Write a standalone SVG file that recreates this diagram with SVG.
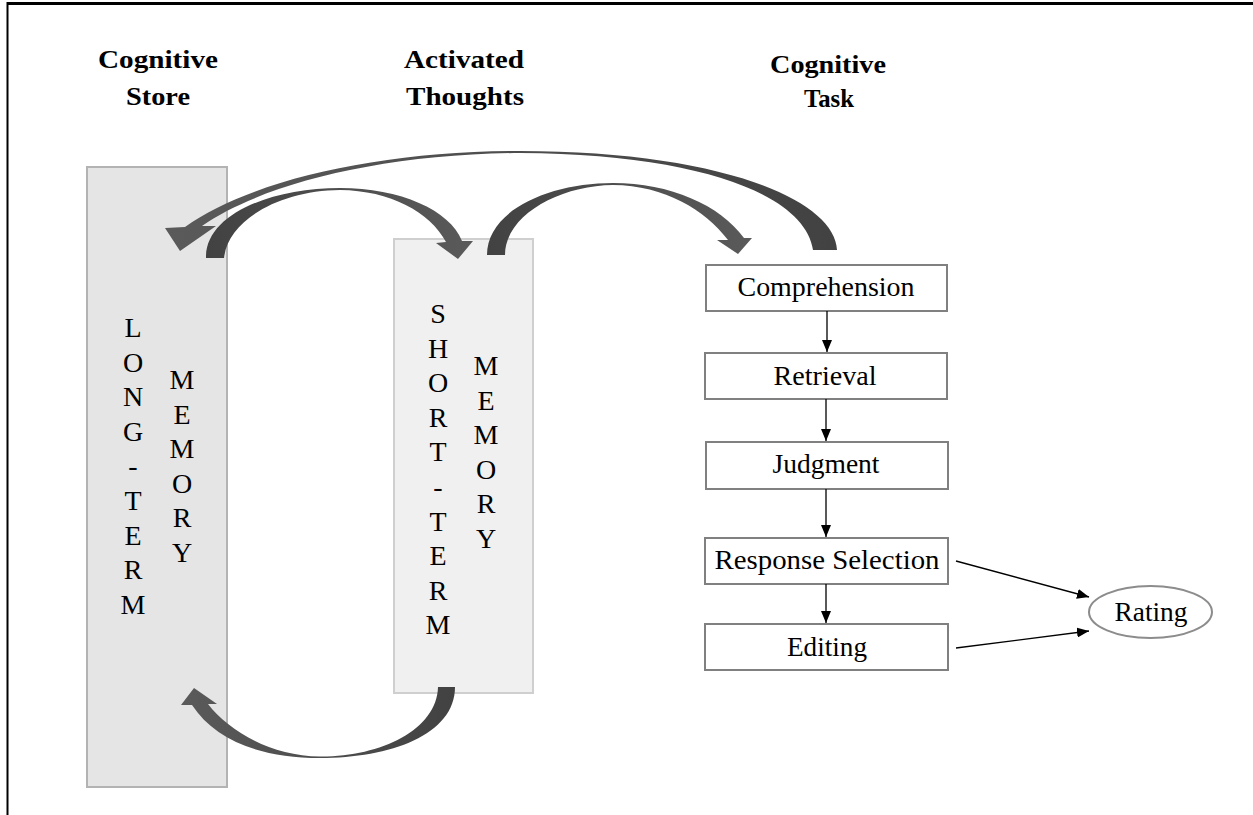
<svg xmlns="http://www.w3.org/2000/svg" width="1253" height="815" viewBox="0 0 1253 815">
<style>
  .hd { font-family: "Liberation Serif", "Times New Roman", serif; font-weight: bold; font-size: 26px; fill: #000; text-anchor: middle; }
  .tx { font-family: "Liberation Serif", "Times New Roman", serif; font-size: 27px; fill: #000; text-anchor: middle; }
  .vt { font-family: "Liberation Serif", "Times New Roman", serif; font-size: 28px; fill: #000; text-anchor: middle; }
  .box { fill: #fff; stroke: #808080; stroke-width: 2; }
  .edge { stroke: #000; stroke-width: 1.3; fill: none; marker-end: url(#ah); }
</style>
<defs>
  <marker id="ah" viewBox="0 0 12 10" refX="12" refY="5" markerWidth="12" markerHeight="10" markerUnits="userSpaceOnUse" orient="auto">
    <path d="M0,0 L12,5 L0,10 Z" fill="#000"/>
  </marker>
  <linearGradient id="gL" x1="0" y1="0" x2="1" y2="0">
    <stop offset="0" stop-color="#5a5a5a"/>
    <stop offset="1" stop-color="#424242"/>
  </linearGradient>
  <linearGradient id="gR" x1="0" y1="0" x2="1" y2="0">
    <stop offset="0" stop-color="#424242"/>
    <stop offset="1" stop-color="#5a5a5a"/>
  </linearGradient>
</defs>
<rect width="1253" height="815" fill="#fff"/>
<g id="frame" stroke="#000" fill="none">
  <line x1="7" y1="3.5" x2="1253" y2="3.5" stroke-width="3"/>
  <line x1="7.5" y1="2" x2="7.5" y2="815" stroke-width="2"/>
</g>
<g id="headings">
  <text class="hd" x="158" y="68" textLength="120" lengthAdjust="spacingAndGlyphs">Cognitive</text>
  <text class="hd" x="158" y="105" textLength="64" lengthAdjust="spacingAndGlyphs">Store</text>
  <text class="hd" x="464" y="68" textLength="120" lengthAdjust="spacingAndGlyphs">Activated</text>
  <text class="hd" x="465" y="105" textLength="118" lengthAdjust="spacingAndGlyphs">Thoughts</text>
  <text class="hd" x="828" y="73" textLength="116" lengthAdjust="spacingAndGlyphs">Cognitive</text>
  <text class="hd" x="829" y="107" textLength="50" lengthAdjust="spacingAndGlyphs">Task</text>
</g>
<g id="ltm">
  <rect x="87" y="167" width="140" height="620" fill="#e5e5e5" stroke="#b3b3b3" stroke-width="2"/>
  <text class="vt"><tspan x="133" y="337">L</tspan><tspan x="133" dy="34.6">O</tspan><tspan x="133" dy="34.6">N</tspan><tspan x="133" dy="34.6">G</tspan><tspan x="133" dy="34.6">-</tspan><tspan x="133" dy="34.6">T</tspan><tspan x="133" dy="34.6">E</tspan><tspan x="133" dy="34.6">R</tspan><tspan x="133" dy="34.6">M</tspan></text>
  <text class="vt"><tspan x="182" y="389">M</tspan><tspan x="182" dy="34.6">E</tspan><tspan x="182" dy="34.6">M</tspan><tspan x="182" dy="34.6">O</tspan><tspan x="182" dy="34.6">R</tspan><tspan x="182" dy="34.6">Y</tspan></text>
</g>
<g id="stm">
  <rect x="394" y="239" width="139" height="454" fill="#f0f0f0" stroke="#cfcfcf" stroke-width="2"/>
  <text class="vt"><tspan x="438" y="323">S</tspan><tspan x="438" dy="34.6">H</tspan><tspan x="438" dy="34.6">O</tspan><tspan x="438" dy="34.6">R</tspan><tspan x="438" dy="34.6">T</tspan><tspan x="438" dy="34.6">-</tspan><tspan x="438" dy="34.6">T</tspan><tspan x="438" dy="34.6">E</tspan><tspan x="438" dy="34.6">R</tspan><tspan x="438" dy="34.6">M</tspan></text>
  <text class="vt"><tspan x="486" y="375">M</tspan><tspan x="486" dy="34.6">E</tspan><tspan x="486" dy="34.6">M</tspan><tspan x="486" dy="34.6">O</tspan><tspan x="486" dy="34.6">R</tspan><tspan x="486" dy="34.6">Y</tspan></text>
</g>
<g id="comprehension">
  <rect class="box" x="706" y="265" width="241" height="46"/>
  <text class="tx" x="826" y="296" textLength="177" lengthAdjust="spacingAndGlyphs">Comprehension</text>
</g>
<g id="retrieval">
  <rect class="box" x="705" y="353" width="242" height="46"/>
  <text class="tx" x="825" y="385" textLength="103" lengthAdjust="spacingAndGlyphs">Retrieval</text>
</g>
<g id="judgment">
  <rect class="box" x="706" y="442" width="242" height="47"/>
  <text class="tx" x="826" y="473" textLength="107" lengthAdjust="spacingAndGlyphs">Judgment</text>
</g>
<g id="response-selection">
  <rect class="box" x="705" y="538" width="243" height="46"/>
  <text class="tx" x="827" y="569" textLength="225" lengthAdjust="spacingAndGlyphs">Response Selection</text>
</g>
<g id="editing">
  <rect class="box" x="705" y="624" width="243" height="46"/>
  <text class="tx" x="827" y="656" textLength="80" lengthAdjust="spacingAndGlyphs">Editing</text>
</g>
<g id="rating">
  <ellipse cx="1150.5" cy="612" rx="61.5" ry="26" fill="#fff" stroke="#8c8c8c" stroke-width="2"/>
  <text class="tx" x="1151" y="621" textLength="73" lengthAdjust="spacingAndGlyphs">Rating</text>
</g>
<g id="connectors">
  <line class="edge" x1="827" y1="311" x2="827" y2="352"/>
  <line class="edge" x1="826" y1="399" x2="826" y2="441"/>
  <line class="edge" x1="826" y1="489" x2="826" y2="537"/>
  <line class="edge" x1="826" y1="584" x2="826" y2="623"/>
  <line class="edge" x1="956" y1="561" x2="1089" y2="597"/>
  <line class="edge" x1="956" y1="648" x2="1089" y2="631"/>
  <path fill="url(#gL)" d="M 837 250 C 835 200, 720 151, 520 151 C 380 151, 250 180, 185 227 L 165 228 L 180 251 L 216 226 L 202 226 C 260 185, 380 154, 520 153 C 700 154, 805 195, 813 250 Z"/>
  <path fill="url(#gR)" d="M 206 258 C 205 215, 270 188, 340 188 C 400 188, 450 210, 462 241 L 473 241 L 458 259 L 436 243 L 446 242 C 430 212, 390 190.5, 340 190 C 280 190.5, 228 220, 224 258 Z"/>
  <path fill="url(#gR)" d="M 487 255 C 487 210, 550 183, 613 183 C 670 183, 720 205, 744 238 L 752 238 L 738 254 L 717 240 L 728 240 C 705 210, 665 185.5, 613 185 C 560 185.5, 505 215, 505 255 Z"/>
  <path fill="url(#gL)" d="M 455 687 C 455 735, 390 758, 320 758 C 260 758, 215 740, 192 705 L 181 705 L 194 688 L 217 704 L 208 704 C 228 730, 270 756, 320 756.5 C 380 757, 437 730, 438 687 Z"/>
</g>
</svg>
